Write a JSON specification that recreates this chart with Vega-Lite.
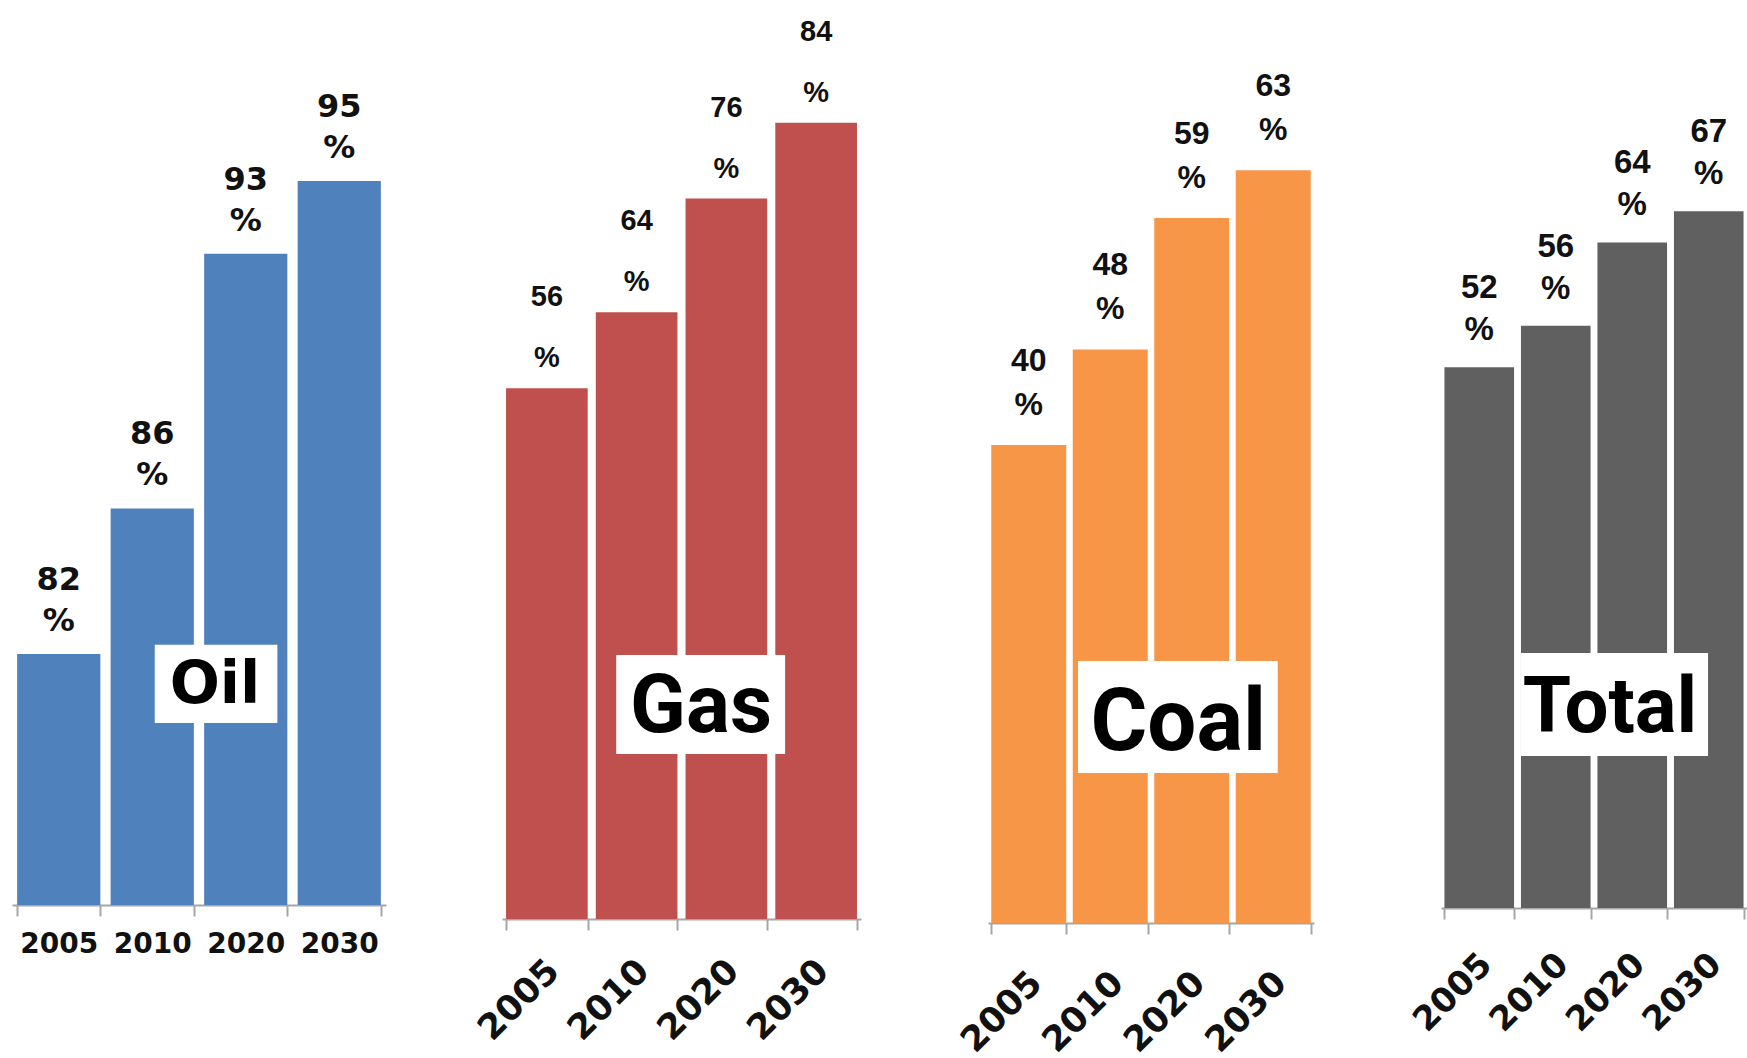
{
  "$schema": "https://vega.github.io/schema/vega-lite/v6.json",
  "description": "Share of fuel supply, by fuel, 2005-2030: four bar panels with their own scales.",
  "background": "white",
  "padding": {"left": 12, "top": 10, "right": 0, "bottom": 0},
  "config": {
    "view": {"stroke": null},
    "axisX": {
      "title": null,
      "domainColor": "#a6a6a6",
      "domainWidth": 2,
      "tickColor": "#a6a6a6",
      "tickWidth": 2,
      "tickSize": 11,
      "tickBand": "extent",
      "labelColor": "#111111",
      "labelFont": "DejaVu Sans",
      "labelFontWeight": "bold"
    }
  },
  "data": {
    "values": [
      {"fuel": "Oil", "year": "2005", "share": 82},
      {"fuel": "Oil", "year": "2010", "share": 86},
      {"fuel": "Oil", "year": "2020", "share": 93},
      {"fuel": "Oil", "year": "2030", "share": 95},
      {"fuel": "Gas", "year": "2005", "share": 56},
      {"fuel": "Gas", "year": "2010", "share": 64},
      {"fuel": "Gas", "year": "2020", "share": 76},
      {"fuel": "Gas", "year": "2030", "share": 84},
      {"fuel": "Coal", "year": "2005", "share": 40},
      {"fuel": "Coal", "year": "2010", "share": 48},
      {"fuel": "Coal", "year": "2020", "share": 59},
      {"fuel": "Coal", "year": "2030", "share": 63},
      {"fuel": "Total", "year": "2005", "share": 52},
      {"fuel": "Total", "year": "2010", "share": 56},
      {"fuel": "Total", "year": "2020", "share": 64},
      {"fuel": "Total", "year": "2030", "share": 67}
    ]
  },
  "bounds": "flush",
  "spacing": 116,
  "hconcat": [
    {
      "width": 374,
      "height": 895,
      "transform": [{"filter": "datum.fuel === 'Oil'"}],
      "encoding": {
        "x": {
          "field": "year", "type": "ordinal",
          "scale": {"domain": ["2005", "2010", "2020", "2030"], "paddingInner": 0.11, "paddingOuter": 0.055},
          "axis": {"labelAngle": 0, "labelFontSize": 28, "labelPadding": 14}
        }
      },
      "layer": [
        {
          "mark": {"type": "bar", "color": "#4F81BD"},
          "encoding": {
            "y": {"field": "share", "type": "quantitative", "scale": {"domain": [75.1, 99.7], "zero": false, "nice": false}, "axis": null},
            "y2": {"datum": 75.1}
          }
        },
        {
          "mark": {"type": "text", "font": "DejaVu Sans", "fontWeight": "bold", "fontSize": 32, "color": "#111111", "baseline": "alphabetic", "dy": -64},
          "encoding": {
            "y": {"field": "share", "type": "quantitative"},
            "text": {"field": "share", "type": "quantitative"}
          }
        },
        {
          "mark": {"type": "text", "text": "%", "font": "DejaVu Sans", "fontWeight": "bold", "fontSize": 32, "color": "#111111", "baseline": "alphabetic", "dy": -23},
          "encoding": {"y": {"field": "share", "type": "quantitative"}}
        },
        {
          "data": {"values": [{}]},
          "mark": {"type": "rect", "color": "white"},
          "encoding": {
            "x": {"datum": "2010", "type": "ordinal", "bandPosition": 0.53},
            "x2": {"datum": "2020", "bandPosition": 0.88},
            "y": {"datum": 82.25, "type": "quantitative"},
            "y2": {"datum": 80.1}
          }
        },
        {
          "data": {"values": [{}]},
          "mark": {"type": "text", "text": "Oil", "font": "DejaVu Sans", "fontWeight": "bold", "fontSize": 59, "color": "black", "align": "center", "baseline": "alphabetic"},
          "encoding": {
            "x": {"datum": "2020", "type": "ordinal", "bandPosition": 0.13},
            "y": {"datum": 80.65, "type": "quantitative"}
          }
        }
      ]
    },
    {
      "bounds": "flush",
      "spacing": 127,
      "hconcat": [
        {
          "width": 359,
          "height": 909,
          "transform": [{"filter": "datum.fuel === 'Gas'"}],
          "encoding": {
            "x": {
              "field": "year", "type": "ordinal",
              "scale": {"domain": ["2005", "2010", "2020", "2030"], "paddingInner": 0.09, "paddingOuter": 0.045},
              "axis": {"labelAngle": -45, "labelFontSize": 35, "labelPadding": 23, "labelOffset": -6}
            }
          },
          "layer": [
            {
              "mark": {"type": "bar", "color": "#C0504D"},
              "encoding": {
                "y": {"field": "share", "type": "quantitative", "scale": {"domain": [0, 95.9], "nice": false}, "axis": null}
              }
            },
            {
              "mark": {"type": "text", "font": "Liberation Sans", "fontWeight": "bold", "fontSize": 29, "color": "#111111", "baseline": "alphabetic", "dy": -82},
              "encoding": {
                "y": {"field": "share", "type": "quantitative"},
                "text": {"field": "share", "type": "quantitative"}
              }
            },
            {
              "mark": {"type": "text", "text": "%", "font": "Liberation Sans", "fontWeight": "bold", "fontSize": 29, "color": "#111111", "baseline": "alphabetic", "dy": -21},
              "encoding": {"y": {"field": "share", "type": "quantitative"}}
            },
            {
              "data": {"values": [{}]},
              "mark": {"type": "rect", "color": "white"},
              "encoding": {
                "x": {"datum": "2010", "type": "ordinal", "bandPosition": 0.25},
                "x2": {"datum": "2030", "bandPosition": 0.12},
                "y": {"datum": 27.85, "type": "quantitative"},
                "y2": {"datum": 17.41}
              }
            },
            {
              "data": {"values": [{}]},
              "mark": {"type": "text", "text": "Gas", "font": "Roboto", "fontWeight": "bold", "fontSize": 82, "color": "black", "align": "center", "baseline": "alphabetic"},
              "encoding": {
                "x": {"datum": "2020", "type": "ordinal", "bandPosition": 0.19},
                "y": {"datum": 19.73, "type": "quantitative"}
              }
            }
          ]
        },
        {
          "width": 326,
          "height": 913,
          "transform": [{"filter": "datum.fuel === 'Coal'"}],
          "encoding": {
            "x": {
              "field": "year", "type": "ordinal",
              "scale": {"domain": ["2005", "2010", "2020", "2030"], "paddingInner": 0.08, "paddingOuter": 0.04},
              "axis": {"labelAngle": -45, "labelFontSize": 35, "labelPadding": 31, "labelOffset": -5}
            }
          },
          "layer": [
            {
              "mark": {"type": "bar", "color": "#F79646"},
              "encoding": {
                "y": {"field": "share", "type": "quantitative", "scale": {"domain": [0, 76.4], "nice": false}, "axis": null}
              }
            },
            {
              "mark": {"type": "text", "font": "Liberation Sans", "fontWeight": "bold", "fontSize": 32, "color": "#111111", "baseline": "alphabetic", "dy": -74},
              "encoding": {
                "y": {"field": "share", "type": "quantitative"},
                "text": {"field": "share", "type": "quantitative"}
              }
            },
            {
              "mark": {"type": "text", "text": "%", "font": "Liberation Sans", "fontWeight": "bold", "fontSize": 32, "color": "#111111", "baseline": "alphabetic", "dy": -30},
              "encoding": {"y": {"field": "share", "type": "quantitative"}}
            },
            {
              "data": {"values": [{}]},
              "mark": {"type": "rect", "color": "white"},
              "encoding": {
                "x": {"datum": "2010", "type": "ordinal", "bandPosition": 0.07},
                "x2": {"datum": "2030", "bandPosition": 0.56},
                "y": {"datum": 21.92, "type": "quantitative"},
                "y2": {"datum": 12.55}
              }
            },
            {
              "data": {"values": [{}]},
              "mark": {"type": "text", "text": "Coal", "font": "Roboto", "fontWeight": "bold", "fontSize": 87, "color": "black", "align": "center", "baseline": "alphabetic"},
              "encoding": {
                "x": {"datum": "2020", "type": "ordinal", "bandPosition": 0.32},
                "y": {"datum": 14.48, "type": "quantitative"}
              }
            }
          ]
        },
        {
          "width": 306,
          "height": 898,
          "transform": [{"filter": "datum.fuel === 'Total'"}],
          "encoding": {
            "x": {
              "field": "year", "type": "ordinal",
              "scale": {"domain": ["2005", "2010", "2020", "2030"], "paddingInner": 0.09, "paddingOuter": 0.045},
              "axis": {"labelAngle": -45, "labelFontSize": 34, "labelPadding": 28, "labelOffset": -5}
            }
          },
          "layer": [
            {
              "mark": {"type": "bar", "color": "#606060"},
              "encoding": {
                "y": {"field": "share", "type": "quantitative", "scale": {"domain": [0, 86.35], "nice": false}, "axis": null}
              }
            },
            {
              "mark": {"type": "text", "font": "Liberation Sans", "fontWeight": "bold", "fontSize": 33, "color": "#111111", "baseline": "alphabetic", "dy": -69},
              "encoding": {
                "y": {"field": "share", "type": "quantitative"},
                "text": {"field": "share", "type": "quantitative"}
              }
            },
            {
              "mark": {"type": "text", "text": "%", "font": "Liberation Sans", "fontWeight": "bold", "fontSize": 33, "color": "#111111", "baseline": "alphabetic", "dy": -27},
              "encoding": {"y": {"field": "share", "type": "quantitative"}}
            },
            {
              "data": {"values": [{}]},
              "mark": {"type": "rect", "color": "white"},
              "encoding": {
                "x": {"datum": "2010", "type": "ordinal", "bandPosition": 0},
                "x2": {"datum": "2030", "bandPosition": 0.49},
                "y": {"datum": 24.52, "type": "quantitative"},
                "y2": {"datum": 14.62}
              }
            },
            {
              "data": {"values": [{}]},
              "mark": {"type": "text", "text": "Total", "font": "Roboto", "fontWeight": "bold", "fontSize": 78, "color": "black", "align": "center", "baseline": "alphabetic"},
              "encoding": {
                "x": {"datum": "2020", "type": "ordinal", "bandPosition": 0.18},
                "y": {"datum": 16.92, "type": "quantitative"}
              }
            }
          ]
        }
      ]
    }
  ]
}
